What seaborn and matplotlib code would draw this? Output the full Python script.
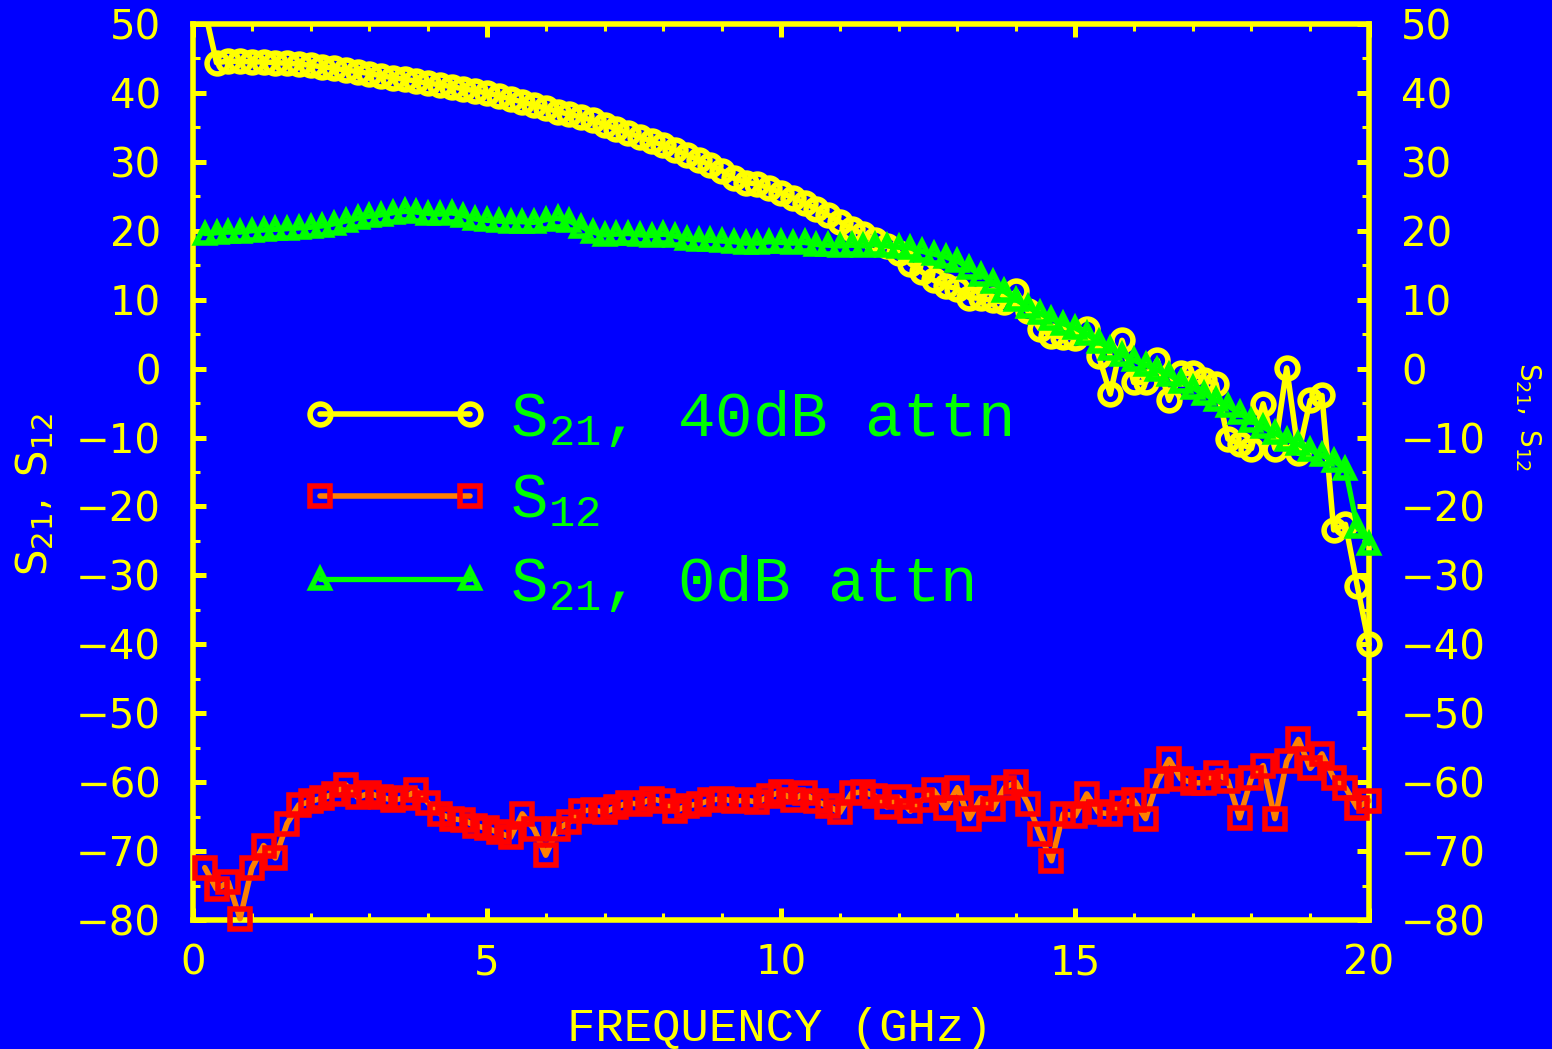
import numpy as np
import pandas as pd
import matplotlib
matplotlib.use("Agg")
import matplotlib.pyplot as plt
from matplotlib.ticker import MultipleLocator
from matplotlib.transforms import Bbox, TransformedBbox
from matplotlib.font_manager import FontProperties
import seaborn as sns

# Swept frequency points (GHz)
freq_ghz = np.round(np.arange(1, 101) * 0.2, 1)

# S21 with 40 dB attenuator (dB)
s21_40db_attn = [
    52.0, 44.4, 44.6, 44.6, 44.5, 44.5, 44.4, 44.3, 44.2, 44.0,
    43.8, 43.6, 43.3, 43.1, 42.8, 42.5, 42.2, 42.0, 41.7, 41.4,
    41.2, 40.9, 40.6, 40.3, 40.0, 39.6, 39.1, 38.7, 38.2, 37.8,
    37.3, 36.9, 36.5, 36.0, 35.4, 34.8, 34.2, 33.6, 33.0, 32.4,
    31.7, 31.0, 30.3, 29.5, 28.7, 27.6, 27.0, 26.8, 26.2, 25.5,
    24.8, 24.0, 23.2, 22.3, 21.3, 20.3, 19.5, 18.6, 17.8, 16.8,
    15.2, 14.0, 12.8, 12.0, 11.6, 10.3, 10.2, 9.9, 9.6, 11.2,
    8.3, 5.8, 4.8, 4.6, 4.5, 5.8, 1.9, -3.7, 4.1, -2.0,
    -2.0, 1.2, -4.6, -0.7, -0.7, -1.6, -2.2, -10.2, -10.9, -11.6,
    -5.1, -11.6, 0.1, -12.3, -4.6, -3.9, -23.4, -22.6, -31.5, -40.0,
]

# S12 (dB)
s12 = [
    -72.4, -75.5, -74.5, -79.8, -72.5, -69.2, -71.0, -66.0, -63.3, -62.8,
    -62.3, -61.7, -60.4, -62.2, -61.6, -62.2, -62.6, -62.3, -61.2, -63.0,
    -64.6, -65.3, -65.5, -66.3, -66.7, -67.3, -68.0, -64.6, -66.8, -70.6,
    -66.8, -65.8, -64.2, -64.0, -64.4, -63.6, -63.0, -63.2, -62.4, -62.8,
    -64.2, -63.4, -63.2, -62.6, -62.4, -62.8, -62.6, -62.9, -62.0, -61.4,
    -62.6, -61.6, -62.8, -63.4, -64.4, -61.6, -61.4, -62.0, -63.6, -62.2,
    -64.2, -62.6, -61.2, -63.8, -60.8, -65.3, -62.3, -63.9, -60.8, -60.0,
    -63.1, -67.5, -71.4, -64.6, -64.9, -61.7, -64.4, -64.6, -63.0, -62.6,
    -65.3, -59.9, -56.7, -59.5, -60.1, -60.1, -58.6, -59.8, -65.2, -59.4,
    -57.6, -65.3, -57.0, -53.8, -58.0, -55.9, -59.4, -60.8, -63.7, -62.7,
]

# S21 without attenuator (dB)
s21_0db_attn = [
    19.6, 19.7, 19.8, 19.8, 20.0, 20.1, 20.2, 20.3, 20.4, 20.5,
    20.7, 21.0, 21.4, 21.8, 22.1, 22.3, 22.6, 22.8, 22.7, 22.5,
    22.4, 22.6, 22.2, 21.7, 21.5, 21.4, 21.3, 21.3, 21.2, 21.6,
    21.8, 21.4, 20.6, 19.8, 19.4, 19.5, 19.6, 19.4, 19.3, 19.5,
    19.2, 18.8, 18.7, 18.6, 18.5, 18.4, 18.2, 18.2, 18.4, 18.3,
    18.2, 18.3, 18.0, 17.9, 17.8, 17.9, 17.8, 18.0, 17.8, 17.6,
    17.5, 17.0, 16.6, 16.2, 15.6, 14.6, 13.6, 12.5, 11.2, 10.0,
    8.9, 8.0, 7.2, 6.5, 5.9, 5.0, 3.9, 2.9, 2.0, 1.2,
    0.5, -0.2, -0.9, -1.9, -2.8, -3.7, -4.6, -5.4, -6.5, -7.6,
    -8.5, -9.4, -10.3, -11.0, -11.8, -12.6, -13.4, -14.6, -23.0, -25.4,
]

labels = {
    "s21_40": r"$\mathrm{S_{21}}$, 40dB attn",
    "s12": r"$\mathrm{S_{12}}$",
    "s21_0": r"$\mathrm{S_{21}}$, 0dB attn",
}

BLUE = "#0000FF"
YELLOW = "#FFFF00"
GREEN = "#00FF00"
RED = "#FF0000"
ORANGE = "#FF8000"

sns.set_style("ticks")
plt.rcParams.update({
    "font.family": ["DejaVu Sans"],
    "mathtext.fontset": "custom",
    "mathtext.rm": "Liberation Mono",
    "mathtext.sf": "DejaVu Sans",
    "axes.facecolor": BLUE,
    "figure.facecolor": BLUE,
    "savefig.facecolor": BLUE,
})

df = pd.DataFrame({
    "freq": freq_ghz,
    "s21_40": s21_40db_attn,
    "s12": s12,
    "s21_0": s21_0db_attn,
})

fig = plt.figure(figsize=(15.52, 10.49), dpi=100)
ax = fig.add_axes([193 / 1552, 1 - 920 / 1049, (1369 - 193) / 1552, (920 - 24) / 1049])

common = dict(ax=ax, estimator=None, sort=False, legend=False)

sns.lineplot(data=df, x="freq", y="s12", color=ORANGE, linewidth=4.0,
             marker="s", markersize=14, markeredgecolor=RED,
             markerfacecolor="none", markeredgewidth=4.0,
             label=labels["s12"], **common)
sns.lineplot(data=df, x="freq", y="s21_40", color=YELLOW, linewidth=4.0,
             marker="o", markersize=15, markeredgecolor=YELLOW,
             markerfacecolor="none", markeredgewidth=4.0,
             label=labels["s21_40"], **common)
sns.lineplot(data=df, x="freq", y="s21_0", color=GREEN, linewidth=3.8,
             marker="^", markersize=13, markeredgecolor=GREEN,
             markerfacecolor="none", markeredgewidth=4.0,
             label=labels["s21_0"], **common)

lines = {ln.get_label(): ln for ln in ax.get_lines()}
for ln in ax.get_lines():
    ln.set_zorder(3)
    ln.set_clip_on(False)
# the 40 dB trace is cut off at the top edge only
top_clip = TransformedBbox(Bbox.from_extents(-0.1, -0.1, 1.1, 1.0), ax.transAxes)
yl = lines[labels["s21_40"]]
yl.set_clip_on(True)
yl.set_clip_path(None)
yl.set_clip_box(top_clip)

ax.set_xlim(0, 20)
ax.set_ylim(-80, 50)
ax.set_xlabel("")
ax.set_ylabel("")
ax.xaxis.set_major_locator(MultipleLocator(5))
ax.xaxis.set_minor_locator(MultipleLocator(1))
ax.yaxis.set_major_locator(MultipleLocator(10))
ax.yaxis.set_minor_locator(MultipleLocator(5))

for sp in ax.spines.values():
    sp.set_visible(True)
    sp.set_color(YELLOW)
    sp.set_linewidth(4.0)

ax.tick_params(which="both", direction="in", top=True, right=True,
               labelright=True, color=YELLOW, labelcolor=YELLOW)
ax.tick_params(which="major", length=9, width=3.6, labelsize=29)
ax.tick_params(which="minor", length=5, width=2.2)
ax.tick_params(axis="x", which="major", pad=17)
ax.tick_params(axis="y", which="major", pad=23)

# legend
leg_font = FontProperties(family="Liberation Mono", size=45)
order = [labels["s21_40"], labels["s12"], labels["s21_0"]]
leg = ax.legend([lines[k] for k in order], order, loc="upper left",
                bbox_to_anchor=(301 / 1552, 1 - 388 / 1049),
                bbox_transform=fig.transFigure, frameon=False, prop=leg_font,
                numpoints=2, handlelength=3.0, handletextpad=0.34,
                labelspacing=0.36, borderpad=0, borderaxespad=0,
                labelcolor=GREEN)
leg.set_zorder(4)

fig.text(780 / 1552, 1 - 1041 / 1049, "FREQUENCY (GHz)", color=YELLOW,
         fontfamily="Liberation Mono", fontsize=34, ha="center", va="baseline")
fig.text(35 / 1552, 1 - 495 / 1049, r"$\mathsf{S_{21},\ S_{12}}$", color=YELLOW,
         fontsize=30, rotation=90, ha="center", va="center")
fig.text(1528 / 1552, 1 - 417 / 1049, r"$\mathsf{S_{21},\ S_{12}}$", color=YELLOW,
         fontsize=20, rotation=270, ha="center", va="center")

fig.savefig("out.png", dpi=100)
